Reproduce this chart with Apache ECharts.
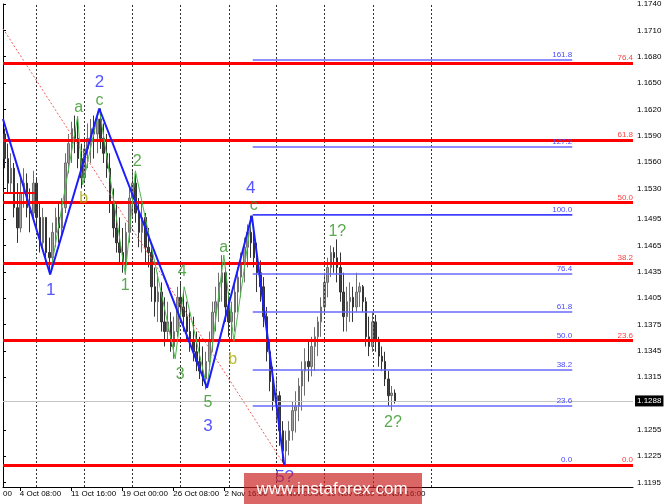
<!DOCTYPE html>
<html><head><meta charset="utf-8">
<script src="https://cdn.jsdelivr.net/npm/echarts@6/dist/echarts.min.js"></script>
<style>html,body{margin:0;padding:0;background:#fff}#c{width:665px;height:504px}</style>
</head><body><div id="c"></div>
<script>
// ---- price bars (each bar = 2 x H4 periods) ----
const opens = [1.1592,1.1564,1.1536,1.1553,1.1508,1.1485,1.1525,1.1536,1.1508,1.1502,
1.1536,1.1497,1.1468,1.1497,1.1457,1.1451,1.1480,1.1497,1.1485,1.1508,
1.1559,1.1581,1.1598,1.1587,1.1564,1.1542,1.1575,1.1587,1.1598,1.1592,
1.1609,1.1587,1.1570,1.1553,1.1513,1.1485,1.1468,1.1457,1.1446,1.1480,
1.1519,1.1536,1.1502,1.1480,1.1497,1.1463,1.1457,1.1418,1.1401,1.1412,
1.1378,1.1367,1.1378,1.1350,1.1367,1.1406,1.1395,1.1384,1.1367,1.1356,
1.1344,1.1333,1.1322,1.1313,1.1333,1.1356,1.1389,1.1401,1.1423,1.1434,
1.1395,1.1378,1.1389,1.1412,1.1429,1.1446,1.1463,1.1480,1.1468,1.1451,
1.1434,1.1418,1.1384,1.1344,1.1310,1.1288,1.1294,1.1254,1.1231,1.1243,
1.1254,1.1277,1.1282,1.1305,1.1322,1.1333,1.1327,1.1350,1.1361,1.1378,
1.1395,1.1423,1.1440,1.1457,1.1451,1.1440,1.1412,1.1384,1.1401,1.1406,
1.1395,1.1412,1.1418,1.1401,1.1361,1.1350,1.1378,1.1356,1.1339,1.1333,
1.1313,1.1294,1.1297];
const closes = [1.1564,1.1536,1.1553,1.1508,1.1485,1.1525,1.1536,1.1508,1.1502,1.1536,
1.1497,1.1468,1.1497,1.1457,1.1451,1.1480,1.1497,1.1485,1.1508,1.1559,
1.1581,1.1598,1.1587,1.1564,1.1542,1.1575,1.1587,1.1598,1.1592,1.1609,
1.1587,1.1570,1.1553,1.1513,1.1485,1.1468,1.1457,1.1446,1.1480,1.1519,
1.1536,1.1502,1.1480,1.1497,1.1463,1.1457,1.1418,1.1401,1.1412,1.1378,
1.1367,1.1378,1.1350,1.1367,1.1406,1.1395,1.1384,1.1367,1.1356,1.1344,
1.1333,1.1322,1.1313,1.1333,1.1356,1.1389,1.1401,1.1423,1.1434,1.1395,
1.1378,1.1389,1.1412,1.1429,1.1446,1.1463,1.1480,1.1468,1.1451,1.1434,
1.1418,1.1384,1.1344,1.1310,1.1288,1.1294,1.1254,1.1231,1.1243,1.1254,
1.1277,1.1282,1.1305,1.1322,1.1333,1.1327,1.1350,1.1361,1.1378,1.1395,
1.1423,1.1440,1.1457,1.1451,1.1440,1.1412,1.1384,1.1401,1.1406,1.1395,
1.1412,1.1418,1.1401,1.1361,1.1350,1.1378,1.1356,1.1339,1.1333,1.1313,
1.1294,1.1297,1.1288];
const lows = [1.1553,1.1525,1.1525,1.1497,1.1468,1.1480,1.1508,1.1497,1.1480,1.1497,
1.1485,1.1457,1.1463,1.1446,1.1432,1.1440,1.1463,1.1468,1.1474,1.1502,
1.1547,1.1559,1.1570,1.1553,1.1530,1.1536,1.1553,1.1559,1.1564,1.1570,
1.1575,1.1559,1.1542,1.1502,1.1474,1.1457,1.1444,1.1434,1.1432,1.1468,
1.1497,1.1491,1.1463,1.1457,1.1446,1.1440,1.1401,1.1384,1.1378,1.1367,
1.1350,1.1356,1.1344,1.1336,1.1361,1.1378,1.1367,1.1356,1.1344,1.1333,
1.1322,1.1313,1.1305,1.1301,1.1322,1.1344,1.1367,1.1378,1.1401,1.1378,
1.1361,1.1356,1.1367,1.1389,1.1406,1.1423,1.1440,1.1451,1.1440,1.1412,
1.1401,1.1372,1.1333,1.1299,1.1277,1.1265,1.1237,1.1218,1.1215,1.1226,
1.1243,1.1252,1.1265,1.1277,1.1294,1.1310,1.1316,1.1322,1.1339,1.1361,
1.1389,1.1406,1.1429,1.1434,1.1423,1.1401,1.1367,1.1367,1.1378,1.1378,
1.1389,1.1395,1.1389,1.1350,1.1339,1.1344,1.1344,1.1327,1.1322,1.1305,
1.1282,1.1277,1.1285];
const highs = [1.1598,1.1581,1.1570,1.1559,1.1536,1.1542,1.1553,1.1547,1.1530,1.1550,
1.1542,1.1513,1.1508,1.1497,1.1474,1.1491,1.1508,1.1513,1.1519,1.1570,
1.1592,1.1606,1.1613,1.1612,1.1581,1.1587,1.1604,1.1609,1.1613,1.1617,
1.1621,1.1604,1.1592,1.1570,1.1530,1.1513,1.1497,1.1485,1.1491,1.1530,
1.1550,1.1547,1.1519,1.1513,1.1502,1.1485,1.1468,1.1440,1.1434,1.1423,
1.1406,1.1401,1.1389,1.1384,1.1418,1.1423,1.1412,1.1401,1.1389,1.1384,
1.1367,1.1361,1.1350,1.1344,1.1367,1.1401,1.1418,1.1434,1.1454,1.1440,
1.1412,1.1401,1.1423,1.1440,1.1457,1.1474,1.1489,1.1499,1.1485,1.1468,
1.1448,1.1429,1.1395,1.1356,1.1327,1.1316,1.1299,1.1265,1.1254,1.1265,
1.1288,1.1299,1.1314,1.1333,1.1348,1.1356,1.1361,1.1372,1.1384,1.1406,
1.1434,1.1451,1.1465,1.1463,1.1472,1.1457,1.1434,1.1418,1.1423,1.1418,
1.1434,1.1423,1.1420,1.1406,1.1384,1.1389,1.1386,1.1361,1.1350,1.1344,
1.1322,1.1305,1.1301];
const lastPrice = 1.1288;

// ---- axes (x in H4-bar units) ----
const yTicks = [1.1740,1.1710,1.1680,1.1650,1.1620,1.1590,1.1560,1.1530,1.1495,1.1465,1.1435,1.1405,1.1375,1.1345,1.1315,1.1255,1.1225,1.1195];
const xTickBars = [10.5,42.5,74.5,106.5,138.5,170.5,202.5,234.5];
const xTickLabels = ['4 Oct 08:00','11 Oct 16:00','19 Oct 00:00','26 Oct 08:00','2 Nov 16:00','12 Nov 00:00','19 Nov 08:00','26 Nov 16:00'];
const gridBars = [20.5,51.0,80.9,110.8,141.3,171.1,201.0,231.5,267.6];

// ---- Fibonacci grids ----
const redNames = ['0.0','23.6','38.2','50.0','61.8','76.4'];
const redLevels = [1.1215,1.1357,1.1445,1.1514,1.1585,1.1673];
const blueNames = ['0.0','23.6','38.2','50.0','61.8','76.4','100.0','127.2','161.8'];
const blueLevels = [1.1215,1.1282,1.1324,1.1357,1.1390,1.1433,1.1500,1.1577,1.1676];
const blueMain = 1.1500;
const blueFrom = 156.2, blueTo = 356.0;
const shortRed = {from:0, to:19.9, price:1.1525};
const trendLine = [[0,1.1712],[176,1.1215]];

// ---- wave counts ----
const waveBars = [0,29.5,60.2,127.6,155.6,175.9];
const wavePrices = [1.1609,1.1432,1.1621,1.1303,1.1499,1.1215];
const subBars = [29.5,46.7,49.8,60.2,76.5,82.8,107.7,113.3,127.6,138.1,144.4,155.6];
const subPrices = [1.1432,1.1612,1.1534,1.1621,1.1432,1.1550,1.1336,1.1418,1.1303,1.1454,1.1356,1.1499];
const labelTexts = ['2','c','a','1','b','2','1','4','3','5','3','a','b','4','c','1?','2?','5?'];
const labelKinds = ['wave','sub','sub','wave','subb','sub','sub','sub','sub','sub','wave','sub','subb','wave','sub','sub','sub','wave'];
const labelBars = [60.4,60.4,47.3,29.9,50.4,84.0,76.5,112.0,110.8,128.2,128.2,138.1,143.7,154.9,156.8,209.1,243.9,176.1];
const labelPrices = [1.1651,1.1630,1.1622,1.1414,1.1518,1.1561,1.1419,1.1435,1.1318,1.1286,1.1259,1.1463,1.1335,1.1530,1.1510,1.1481,1.1263,1.1201];

const kindColor = {wave:'#2a2aff', sub:'#2f9420', subb:'#a8a800'};
const FONT = 'Liberation Sans, Arial, sans-serif';

const chart = echarts.init(document.getElementById('c'), null, {renderer:'canvas'});
const candles = opens.map((o,i)=>[2*i+1, o, closes[i], lows[i], highs[i]]);

chart.setOption({
  animation:false,
  backgroundColor:'#fff',
  grid:{left:0, right:32, top:0, bottom:17, containLabel:false},
  xAxis:{type:'value', min:0, max:394, position:'bottom',
    axisLine:{show:true, lineStyle:{color:'#000', width:1}},
    axisTick:{show:true, customValues:xTickBars, length:4, lineStyle:{color:'#000'}},
    axisLabel:{show:true, customValues:[0].concat(xTickBars), align:'left', margin:3,
      fontSize:8, fontFamily:FONT, color:'#000',
      formatter:function(v){ if (v < 1) return '00'; let k=0,d=1e9; xTickBars.forEach((b,i)=>{if(Math.abs(b-v)<d){d=Math.abs(b-v);k=i;}}); return xTickLabels[k]; }},
    splitLine:{show:false}},
  yAxis:{type:'value', min:1.1190, max:1.1740, position:'right', scale:true,
    axisLine:{show:true, lineStyle:{color:'#000', width:1}},
    axisTick:{show:true, customValues:yTicks, length:3, lineStyle:{color:'#000'}},
    axisLabel:{show:true, customValues:yTicks, margin:4, fontSize:8, fontFamily:FONT, color:'#000',
      formatter:v=>v.toFixed(4)},
    splitLine:{show:false}},
  series:[
    {type:'line', data:[], z:1, silent:true,
      markLine:{silent:true, precision:4, symbol:['none','none'], animation:false,
        lineStyle:{color:'#333', width:1, type:[2,2]}, label:{show:false},
        data: gridBars.map(b=>({xAxis:b}))}},
    {type:'line', data:[], z:2, silent:true,
      markLine:{silent:true, precision:4, symbol:['none','none'], animation:false,
        lineStyle:{color:'#c4c4c4', width:1, type:'solid'},
        label:{show:true, position:'end', distance:2, formatter:lastPrice.toFixed(4), color:'#fff',
          backgroundColor:'#000', padding:[2,2,1,2], fontSize:8, fontFamily:FONT},
        data:[{yAxis:lastPrice}]}},
    {type:'candlestick', data:candles, encode:{x:0, y:[1,2,3,4]}, barWidth:2, z:3,
      itemStyle:{color:'#a0a0a0', color0:'#404040', borderColor:'#6e6e6e', borderColor0:'#333', borderWidth:1}},
    {type:'line', data:trendLine, z:4, symbol:'none', silent:true,
      lineStyle:{color:'#f06060', width:1, type:[2,2]}},
    {type:'line', data:[], z:5, silent:true,
      markLine:{silent:true, precision:4, symbol:['none','none'], animation:false,
        lineStyle:{color:'#6868ff', width:1.5, type:'solid'},
        label:{show:true, position:'insideEndTop', distance:[0,1], color:'#4a4aff', fontSize:8, fontFamily:FONT, formatter:p=>p.name},
        data: blueLevels.map((v,i)=>[{name:blueNames[i], coord:[blueFrom, v]},{coord:[blueTo, v]}])}},
    {type:'line', data:[[blueFrom, blueMain],[blueTo, blueMain]], z:6, symbol:'none', silent:true,
      lineStyle:{color:'#2323ff', width:1.2}},
    {type:'line', data:[], z:7, silent:true,
      markLine:{silent:true, precision:4, symbol:['none','none'], animation:false,
        lineStyle:{color:'#ff0000', width:3, type:'solid'},
        label:{show:true, position:'insideEndTop', distance:[0,1], color:'#ff4040', fontSize:8, fontFamily:FONT, formatter:p=>p.name},
        data: redLevels.map((v,i)=>({name:redNames[i], yAxis:v})).concat([[{coord:[shortRed.from, shortRed.price], lineStyle:{width:2}, label:{show:false}},{coord:[shortRed.to, shortRed.price]}]])}},
    {type:'line', data:subBars.map((b,i)=>[b, subPrices[i]]), z:8, symbol:'none', silent:true,
      lineStyle:{color:'#4cb84c', width:1}},
    {type:'line', data:waveBars.map((b,i)=>[b, wavePrices[i]]), z:9, symbol:'none', silent:true,
      lineStyle:{color:'#1c1cff', width:2}},
    {type:'scatter', z:10, symbolSize:0, silent:true,
      data: labelTexts.map((t,i)=>({value:[labelBars[i], labelPrices[i]], name:t,
        label:{color:kindColor[labelKinds[i]], fontSize: labelKinds[i]==='wave'?17:16}})),
      label:{show:true, position:'inside', formatter:p=>p.name, fontFamily:FONT}}
  ],
  graphic:[
    {type:'rect', z:100, shape:{x:244, y:473, width:178, height:31}, style:{fill:'rgba(200,30,30,0.68)'}},
    {type:'text', z:101, x:332, y:489, style:{text:'www.instaforex.com', fill:'#fff', font:'17px '+FONT, align:'center', verticalAlign:'middle'}}
  ]
});
</script></body></html>
